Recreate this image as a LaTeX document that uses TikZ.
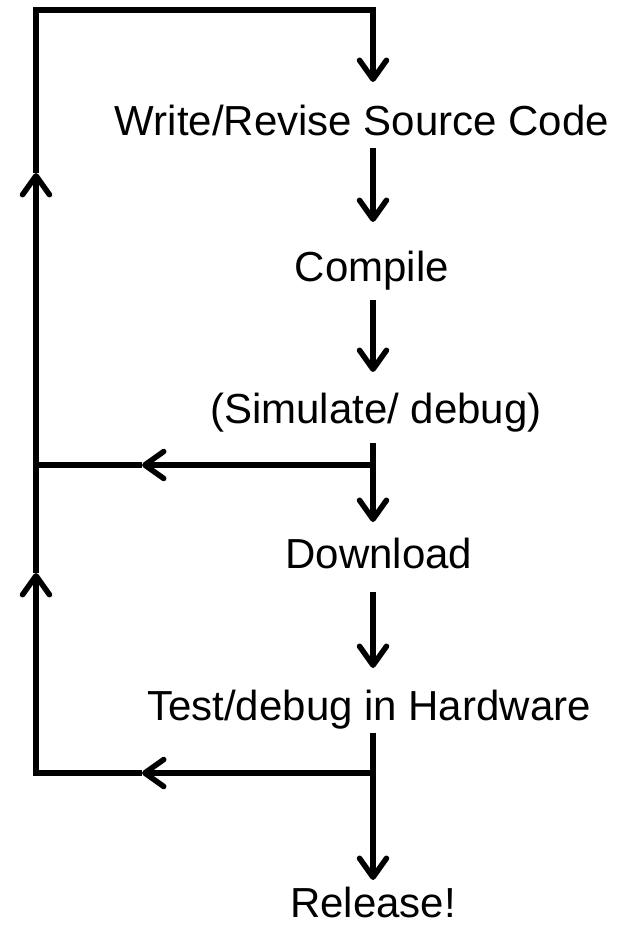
\documentclass[tikz,border=0pt]{standalone}
\usepackage{fontspec}
\setmainfont{Liberation Sans}
\usetikzlibrary{arrows.meta}
\begin{document}
\begin{tikzpicture}[x=1pt,y=-1pt,
  lbl/.style={font=\fontsize{42}{48}\selectfont, anchor=base, inner sep=0pt},
  ln/.style={line width=5.5pt},
  arr/.style={ln, -{Straight Barb[length=19pt, width=27pt, round]}}]
\useasboundingbox (0,0) rectangle (638,925);
% labels
\node[lbl] (w) at (362,136) {Write/Revise Source Code};
\node[lbl] (c) at (372,281) {Compile};
\node[lbl] (s) at (376,423) {(Simulate/ debug)};
\node[lbl] (d) at (379,568) {Download};
\node[lbl] (t) at (369,720) {Test/debug in Hardware};
\node[lbl] (r) at (373,917) {Release!};
% coordinates
\coordinate (tl) at (36,10);
\coordinate (tr) at (373,10);
\coordinate (a1) at (373,82);
\coordinate (w1) at (373,148);
\coordinate (c0) at (373,222);
\coordinate (c1) at (373,300);
\coordinate (s0) at (373,372);
\coordinate (s1) at (373,443);
\coordinate (q1) at (373,465);
\coordinate (d0) at (373,522);
\coordinate (d1) at (373,592);
\coordinate (t0) at (373,668);
\coordinate (t1) at (373,733);
\coordinate (q2) at (373,773);
\coordinate (r0) at (373,880);
\coordinate (ha1) at (142,465);
\coordinate (j1) at (36,465);
\coordinate (ha2) at (142,773);
\coordinate (b2) at (36,773);
\coordinate (u2) at (36,573);
\coordinate (u1) at (36,173);
% connectors
\draw[arr] (u1) -- (tl) -- (tr) -- (a1);
\draw[arr] (w1) -- (c0);
\draw[arr] (c1) -- (s0);
\draw[arr] (s1) -- (d0);
\draw[arr] (d1) -- (t0);
\draw[arr] (t1) -- (r0);
\draw[arr] (q1) -- (ha1);
\draw[ln] (ha1) -- (j1);
\draw[arr] (q2) -- (ha2);
\draw[arr, line join=miter] (ha2) -- (b2) -- (u2);
\draw[arr] (u2) -- (u1);
\end{tikzpicture}
\end{document}
